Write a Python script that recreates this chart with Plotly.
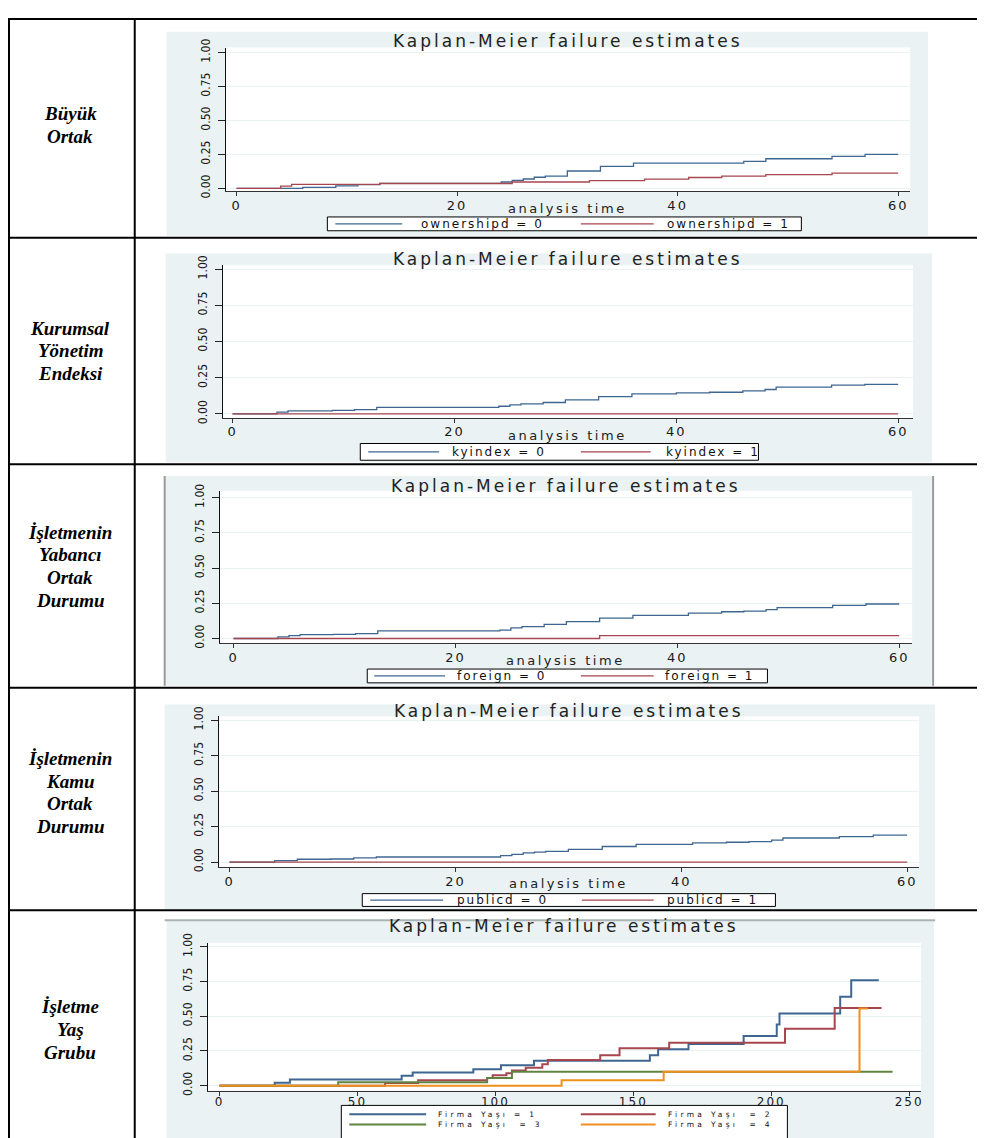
import plotly.graph_objects as go

# page body has an 8px margin: the figure is shifted by OFF px
OFF = 8
W, H = 985 - OFF, 1138 - OFF

# ---------------- data ----------------
ROW_LABELS = [
    ["Büyük", "Ortak"],
    ["Kurumsal", "Yönetim", "Endeksi"],
    ["İşletmenin", "Yabancı", "Ortak", "Durumu"],
    ["İşletmenin", "Kamu", "Ortak", "Durumu"],
    ["İşletme", "Yaş", "Grubu"],
]
TITLE = "Kaplan-Meier failure estimates"
XLABEL = "analysis time"
Y_TICKVALS = [0, 0.25, 0.5, 0.75, 1.0]
Y_TICKTEXT = ["0.00", "0.25", "0.50", "0.75", "1.00"]
X_TICKS_60 = [0, 20, 40, 60]
X_TICKS_250 = [0, 50, 100, 150, 200, 250]

# Panel 1: ownershipd
own0_t = [0, 6, 9, 11, 13, 24, 25, 26, 27, 28, 30, 33, 36, 46, 48, 54, 57, 60]
own0_f = [0, 0.008, 0.018, 0.028, 0.037, 0.047, 0.059, 0.069, 0.082, 0.09, 0.128,
          0.162, 0.186, 0.199, 0.218, 0.235, 0.25, 0.25]
own1_t = [0, 4, 5, 13, 25, 32, 37, 41, 44, 48, 54, 60]
own1_f = [0, 0.017, 0.029, 0.036, 0.047, 0.057, 0.068, 0.08, 0.09, 0.102, 0.112, 0.112]
own_labels = ["ownershipd = 0", "ownershipd = 1"]

# Panel 2: kyindex
ky0_t = [0, 4, 5, 9, 11, 13, 24, 25, 26, 28, 30, 33, 36, 40, 43, 46, 48, 49, 54, 57, 60]
ky0_f = [0, 0.012, 0.021, 0.025, 0.03, 0.046, 0.053, 0.063, 0.069, 0.079, 0.097, 0.12,
         0.139, 0.145, 0.15, 0.16, 0.169, 0.185, 0.199, 0.204, 0.204]
ky1_t = [0, 60]
ky1_f = [0, 0]
ky_labels = ["kyindex = 0", "kyindex = 1"]

# Panel 3: foreign
for0_t = [0, 4, 5, 6, 9, 11, 13, 24, 25, 26, 28, 30, 33, 36, 41, 44, 46, 48, 49, 54, 57, 60]
for0_f = [0, 0.012, 0.02, 0.028, 0.03, 0.035, 0.054, 0.06, 0.075, 0.085, 0.10, 0.12,
          0.145, 0.165, 0.18, 0.19, 0.195, 0.205, 0.22, 0.235, 0.245, 0.245]
for1_t = [0, 33, 60]
for1_f = [0, 0.021, 0.021]
for_labels = ["foreign = 0", "foreign = 1"]

# Panel 4: publicd
pub0_t = [0, 4, 6, 9, 11, 13, 24, 25, 26, 27, 28, 30, 33, 36, 41, 44, 46, 48, 49, 54, 57, 60]
pub0_f = [0, 0.01, 0.02, 0.022, 0.03, 0.036, 0.045, 0.055, 0.065, 0.07, 0.075, 0.09,
          0.11, 0.125, 0.135, 0.14, 0.145, 0.155, 0.17, 0.18, 0.19, 0.19]
pub1_t = [0, 60]
pub1_f = [0, 0]
pub_labels = ["publicd = 0", "publicd = 1"]

# Panel 5: Firma Yaşı
age1_t = [0, 20, 25.5, 66, 70, 92, 102, 114, 156, 159, 170, 190, 202, 203, 225, 229, 239]
age1_f = [0, 0.021, 0.045, 0.072, 0.095, 0.119, 0.148, 0.179, 0.22, 0.263, 0.30, 0.358,
          0.44, 0.52, 0.64, 0.76, 0.76]
age2_t = [0, 60, 72, 97, 99, 104, 106, 111, 117, 119, 138, 145, 163, 205, 223, 240]
age2_f = [0, 0.02, 0.04, 0.055, 0.075, 0.09, 0.11, 0.13, 0.155, 0.185, 0.22, 0.27, 0.31,
          0.41, 0.56, 0.56]
age3_t = [0, 43, 97, 106, 244]
age3_f = [0, 0.024, 0.055, 0.10, 0.10]
age4_t = [0, 124, 161, 232, 235]
age4_f = [0, 0.04, 0.10, 0.555, 0.555]
age_labels = ["Firma Yaşı = 1", "Firma Yaşı\u00a0 = 2", "Firma Yaşı\u00a0 = 3", "Firma Yaşı\u00a0 = 4"]

# ---------------- styles / layout geometry (reference pixels) ----------------
COLORS = ["#3e6690", "#a6464e", "#5f8440", "#ee8f1e"]
BG = "#eaf2f3"
GRID = "#eaf2f3"

SERIES = [
    [(own0_t, own0_f, own_labels[0]), (own1_t, own1_f, own_labels[1])],
    [(ky0_t, ky0_f, ky_labels[0]), (ky1_t, ky1_f, ky_labels[1])],
    [(for0_t, for0_f, for_labels[0]), (for1_t, for1_f, for_labels[1])],
    [(pub0_t, pub0_f, pub_labels[0]), (pub1_t, pub1_f, pub_labels[1])],
    [(age1_t, age1_f, age_labels[0]), (age2_t, age2_f, age_labels[1]),
     (age3_t, age3_f, age_labels[2]), (age4_t, age4_f, age_labels[3])],
]

PANELS = [
    dict(bg=(167, 22, 930, 229), plot=(226, 38, 912, 184), xcal=(237, 900, 0, 60),
         ycal=(181, 43), title_y=31, xlab_y=201, xticks=X_TICKS_60,
         box=(328, 210, 803, 224), tfs=13, tso=-2,
         entries=[(336, 403, 217, 421), (582, 655, 217, 667)], lw=1.3, fs=12, ls=2),
    dict(bg=(166, 247, 934, 459), plot=(223, 259, 915, 414), xcal=(233, 900, 0, 60),
         ycal=(410, 263), title_y=253, xlab_y=432, xticks=X_TICKS_60,
         box=(361, 440, 760, 457), tfs=13, tso=-2,
         entries=[(369, 440, 448.5, 452), (582, 652, 448.5, 666)], lw=1.3, fs=12, ls=2),
    dict(bg=(165, 473, 935, 686), plot=(220, 488, 914, 643), xcal=(234, 901, 0, 60),
         ycal=(638, 495), title_y=483, xlab_y=660, xticks=X_TICKS_60,
         box=(368, 669, 769, 683), tfs=13, tso=-2,
         entries=[(375, 446, 676, 457), (582, 655, 676, 665)], lw=1.3, fs=12, ls=2),
    dict(bg=(165, 705, 937, 913), plot=(219, 717, 921, 870), xcal=(230, 909, 0, 60),
         ycal=(865, 721), title_y=712, xlab_y=887, xticks=X_TICKS_60,
         box=(363, 897, 777, 910), tfs=13, tso=-2,
         entries=[(371, 444, 903.5, 457), (583, 655, 903.5, 667)], lw=1.3, fs=12, ls=2),
    dict(bg=(167, 924, 936, 1150), plot=(208, 947, 923, 1097), xcal=(220, 911, 0, 250),
         ycal=(1092, 951), title_y=930, xlab_y=None, xticks=X_TICKS_250,
         box=(342, 1112, 789, 1150), tfs=12, tso=-4,
         entries=[(350, 427, 1121, 438), (582, 657, 1121, 668),
                  (350, 427, 1131.5, 438), (582, 657, 1131.5, 668)], lw=2.0, fs=7.5, ls=3.3),
]

ROW_LINE_Y = [5, 231, 461, 688, 914]
ROW_TEXT_Y0 = [105, 323, 530, 760, 1012]
ROW_TEXT_DY = 23


def X(px):
    return (px - OFF) / W


def Y(py):
    return 1 - (py - OFF) / H


def sp(text, ls):
    return f"<span style='letter-spacing:{ls}px'>{text}</span>"


fig = go.Figure()
shapes = []
annotations = []
layout_axes = {}

# table lines (the outer ones clamped to the drawable area)
for y in ROW_LINE_Y:
    yy = max(y, OFF + 1)
    shapes.append(dict(type="line", xref="paper", yref="paper", x0=X(OFF), x1=X(990),
                       y0=Y(yy), y1=Y(yy), line=dict(color="black", width=2)))
for x in (6, 135):
    xx = max(x, OFF + 1)
    shapes.append(dict(type="line", xref="paper", yref="paper", x0=X(xx), x1=X(xx),
                       y0=Y(OFF + 1), y1=Y(1145), line=dict(color="black", width=2)))

# row labels
for lines, y0 in zip(ROW_LABELS, ROW_TEXT_Y0):
    for k, txt in enumerate(lines):
        annotations.append(dict(
            x=X(70.5), y=Y(y0 + k * ROW_TEXT_DY), xref="paper", yref="paper",
            text=f"<b><i>{txt}</i></b>", showarrow=False, xanchor="center", yanchor="middle",
            font=dict(family="Liberation Serif, Times New Roman, serif", size=19, color="black")))

for i, (p, series) in enumerate(zip(PANELS, SERIES)):
    s = "" if i == 0 else str(i + 1)
    bx0, by0, bx1, by1 = p["bg"]
    L, T, R, B = p["plot"]
    # background region and white plot region
    shapes.append(dict(type="rect", xref="paper", yref="paper", layer="below",
                       x0=X(bx0), x1=X(bx1), y0=Y(by1), y1=Y(by0),
                       fillcolor=BG, line=dict(width=0)))
    shapes.append(dict(type="rect", xref="paper", yref="paper", layer="below",
                       x0=X(L), x1=X(R), y0=Y(B), y1=Y(T),
                       fillcolor="white", line=dict(width=0)))
    # axis calibration
    x0px, x1px, xv0, xv1 = p["xcal"]
    sx = (x1px - x0px) / (xv1 - xv0)
    xr = [xv0 + (L - x0px) / sx, xv0 + (R - x0px) / sx]
    y0px, y1px = p["ycal"]
    sy = (y0px - y1px)
    yr = [-(B - y0px) / sy, (y0px - T) / sy]

    layout_axes["xaxis" + s] = dict(
        domain=[X(L), X(R)], range=xr, anchor="y" + s,
        tickvals=p["xticks"], ticktext=[sp(str(v), 2) for v in p["xticks"]],
        ticks="outside", ticklen=4, tickcolor="#333", showline=True, linecolor="#333",
        linewidth=1, showgrid=False, zeroline=False, ticklabelstandoff=p["tso"],
        tickfont=dict(family="DejaVu Sans", size=p["tfs"], color="#1a1a1a"))
    layout_axes["yaxis" + s] = dict(
        domain=[Y(B), Y(T)], range=yr, anchor="x" + s,
        tickvals=Y_TICKVALS, ticktext=Y_TICKTEXT, tickangle=-90,
        ticks="outside", ticklen=7, tickcolor="#222", showline=True, linecolor="#111",
        linewidth=1, showgrid=True, gridcolor=GRID, gridwidth=1, zeroline=False,
        ticklabelstandoff=3,
        tickfont=dict(family="Liberation Sans Narrow, DejaVu Sans Condensed, sans-serif",
                      size=12, color="#1a1a1a"))

    for k, (t, f, name) in enumerate(series):
        fig.add_trace(go.Scatter(x=t, y=f, mode="lines", name=name, showlegend=False,
                                 line=dict(shape="hv", color=COLORS[k], width=p["lw"]),
                                 xaxis="x" + s, yaxis="y" + s))

    # title and x-axis title
    cx = (L + R) / 2
    annotations.append(dict(x=X(cx), y=Y(p["title_y"]), xref="paper", yref="paper",
                            text=sp(TITLE, 3), showarrow=False, xanchor="center",
                            yanchor="middle", borderpad=0,
                            font=dict(family="DejaVu Sans", size=17, color="#222")))
    if p["xlab_y"] is not None:
        annotations.append(dict(x=X(cx), y=Y(p["xlab_y"]), xref="paper", yref="paper",
                                text=sp(XLABEL, 2.5), showarrow=False, xanchor="center",
                                yanchor="middle", borderpad=0,
                                font=dict(family="DejaVu Sans", size=13, color="#222")))
    # legend box with samples and labels
    lx0, ly0, lx1, ly1 = p["box"]
    shapes.append(dict(type="rect", xref="paper", yref="paper",
                       x0=X(lx0), x1=X(lx1), y0=Y(ly1), y1=Y(ly0),
                       fillcolor="white", line=dict(color="black", width=1)))
    for k, ((ex0, ex1, ey, tx), (t, f, name)) in enumerate(zip(p["entries"], series)):
        shapes.append(dict(type="line", xref="paper", yref="paper",
                           x0=X(ex0), x1=X(ex1), y0=Y(ey), y1=Y(ey),
                           line=dict(color=COLORS[k], width=p["lw"])))
        annotations.append(dict(x=X(tx), y=Y(ey), xref="paper", yref="paper",
                                text=sp(name, p["ls"]), showarrow=False, xanchor="left",
                                yanchor="middle", borderpad=0,
                                font=dict(family="DejaVu Sans", size=p["fs"], color="#111")))

# extra frame lines of panel 3 and top edge of panel 5
for x in (165, 935):
    shapes.append(dict(type="line", xref="paper", yref="paper", x0=X(x), x1=X(x),
                       y0=Y(686), y1=Y(473), line=dict(color="#9a9a9a", width=2)))
shapes.append(dict(type="line", xref="paper", yref="paper", x0=X(165), x1=X(937),
                   y0=Y(924), y1=Y(924), line=dict(color="#aab4b7", width=2)))

fig.update_layout(
    width=W, height=H, margin=dict(l=0, r=0, t=0, b=0),
    paper_bgcolor="white", plot_bgcolor="white",
    showlegend=False, shapes=shapes, annotations=annotations,
    font=dict(family="DejaVu Sans"),
    **layout_axes,
)

fig.write_html("out.html")
